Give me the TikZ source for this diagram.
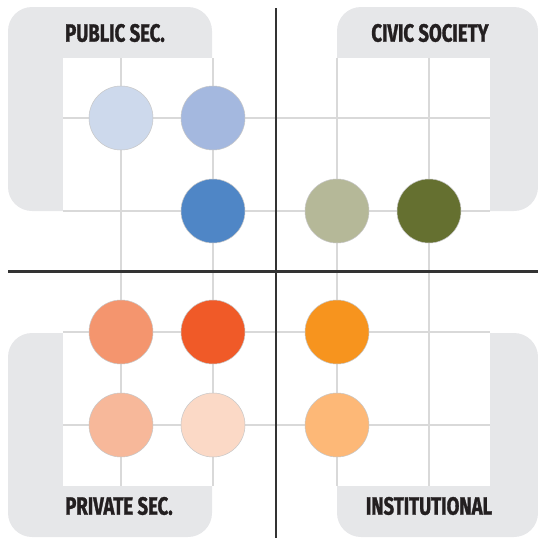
\documentclass[tikz,border=0pt]{standalone}
\usepackage{fontspec}
\newfontfamily\labfont[FakeStretch=0.74,BoldFeatures={FakeBold=1.2}]{Fira Sans}
\definecolor{panel}{HTML}{E6E7E9}
\definecolor{gridc}{HTML}{D9D9D9}
\definecolor{axisc}{HTML}{333333}
\definecolor{txt}{HTML}{231F20}
\definecolor{cA}{HTML}{CDD9EC}
\definecolor{cB}{HTML}{A4B8DF}
\definecolor{cC}{HTML}{4F86C6}
\definecolor{cD}{HTML}{B5B898}
\definecolor{cE}{HTML}{657030}
\definecolor{cF}{HTML}{F4956E}
\definecolor{cG}{HTML}{F05A28}
\definecolor{cH}{HTML}{F7B89A}
\definecolor{cI}{HTML}{FBD9C6}
\definecolor{cJ}{HTML}{F7941E}
\definecolor{cK}{HTML}{FDB877}
\begin{document}
\begin{tikzpicture}[x=1pt,y=-1pt,
  panelbox/.style={fill=panel,rounded corners=24pt},
  gridline/.style={draw=gridc,line width=1.2pt},
  axisline/.style={draw=axisc,line width=2.2pt},
  dot/.style={circle,minimum size=64pt,inner sep=0pt,draw=black!22,line width=0.5pt},
  lab/.style={font=\labfont\bfseries\fontsize{25}{25}\selectfont,text=txt,inner sep=0pt}]
\useasboundingbox (0,0) rectangle (538,538);
% panels
\fill[panelbox] (8,7) rectangle (212,211);
\fill[panelbox] (337,7) rectangle (538,211);
\fill[panelbox] (8,333) rectangle (212,537);
\fill[panelbox] (337,333) rectangle (538,537);
\fill[white] (63,58) rectangle (490,486);
% grid
\foreach \x in {121,213,337,429} \draw[gridline] (\x,58) -- (\x,486);
\foreach \y in {118,211,332,425} \draw[gridline] (63,\y) -- (490,\y);
% axes
\coordinate (vt) at (276,8);
\coordinate (vb) at (276,538);
\coordinate (hl) at (8,271.5);
\coordinate (hr) at (538,271.5);
\draw[axisline] (vt) -- (vb);
\draw[axisline] (hl) -- (hr);
% labels
\node[lab] (pub) at (115,33) {PUBLIC SEC.};
\node[lab] (civ) at (430,33) {CIVIC SOCIETY};
\node[lab] (pri) at (119,506) {PRIVATE SEC.};
\node[lab] (ins) at (429,506) {INSTITUTIONAL};
% circles
\node[dot,fill=cA] (a) at (121,118) {};
\node[dot,fill=cB] (b) at (213,118) {};
\node[dot,fill=cC] (c) at (213,211) {};
\node[dot,fill=cD] (d) at (337,211) {};
\node[dot,fill=cE] (e) at (429,211) {};
\node[dot,fill=cF] (f) at (121,332) {};
\node[dot,fill=cG] (g) at (213,332) {};
\node[dot,fill=cH] (h) at (121,425) {};
\node[dot,fill=cI] (i) at (213,425) {};
\node[dot,fill=cJ] (j) at (337,332) {};
\node[dot,fill=cK] (k) at (337,425) {};
\end{tikzpicture}
\end{document}
